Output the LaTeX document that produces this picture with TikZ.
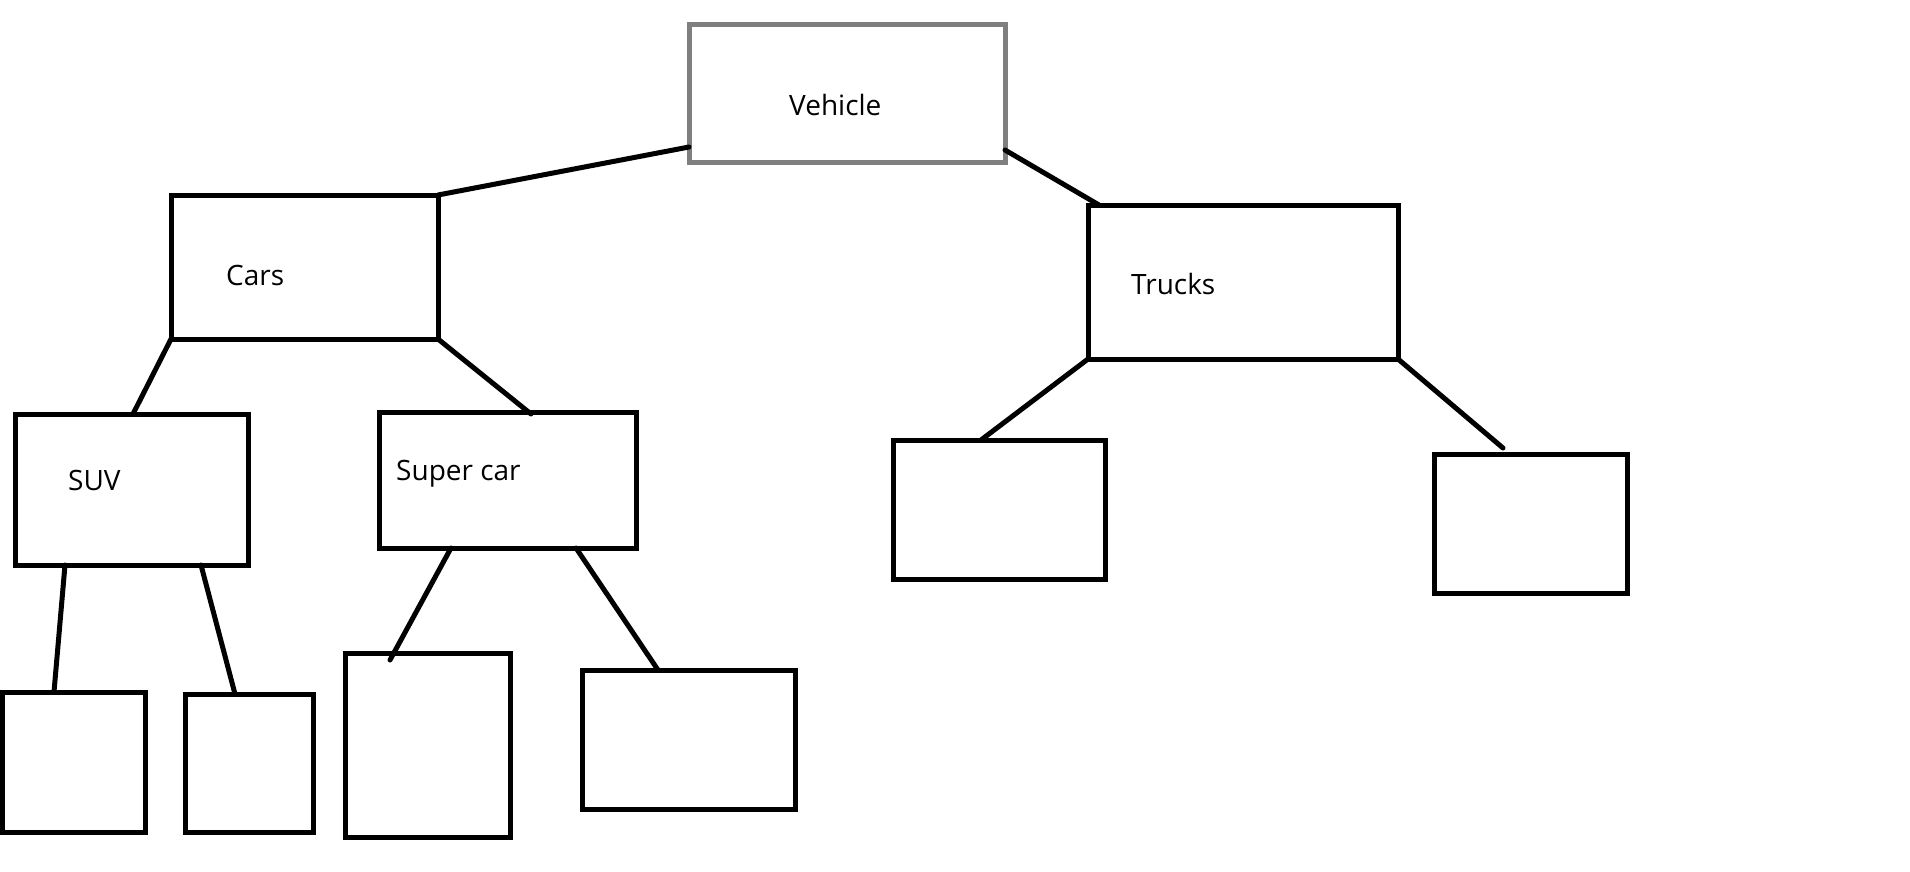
\documentclass[tikz,border=0pt]{standalone}
\usepackage{fontspec}
\setmainfont{Open Sans}
\definecolor{vgray}{RGB}{127,127,127}
\tikzset{
  box/.style={draw=black, line width=5pt, inner sep=0pt, outer sep=0pt, anchor=north west, fill=white},
  gbox/.style={box, draw=vgray},
  lbl/.style={anchor=base west, inner sep=0pt, font=\fontsize{28}{32}\selectfont},
  conn/.style={draw=black, line width=5pt, line cap=round}
}
\begin{document}
\begin{tikzpicture}[x=1pt,y=-1pt]
\useasboundingbox (0,0) rectangle (1910,871);
% boxes
\node[gbox, minimum width=316pt, minimum height=138pt] (veh) at (689,24) {};
\node[box, minimum width=267pt, minimum height=144pt] (cars) at (171,195) {};
\node[box, minimum width=310pt, minimum height=154pt] (trucks) at (1088,205) {};
\node[box, minimum width=233pt, minimum height=151pt] (suv) at (15,414) {};
\node[box, minimum width=257pt, minimum height=136pt] (super) at (379,412) {};
\node[box, minimum width=212pt, minimum height=139pt] (tone) at (893,440) {};
\node[box, minimum width=193pt, minimum height=139pt] (ttwo) at (1434,454) {};
\node[box, minimum width=143pt, minimum height=140pt] (sone) at (2,692) {};
\node[box, minimum width=128pt, minimum height=138pt] (stwo) at (185,694) {};
\node[box, minimum width=165pt, minimum height=184pt] (cone) at (345,653) {};
\node[box, minimum width=213pt, minimum height=139pt] (ctwo) at (582,670) {};
% labels
\node[lbl] (tveh) at (789,115) {Vehicle};
\node[lbl] (tcars) at (226,285) {Cars};
\node[lbl] (ttrucks) at (1131,294) {Trucks};
\node[lbl] (tsuv) at (68,490) {SUV};
\node[lbl] (tsuper) at (396,480) {Super car};
% connectors
\coordinate (ttwoend) at (1503,448);
\draw[conn] ([yshift=15pt]veh.south west) -- (cars.north east);
\draw[conn] ([yshift=12pt]veh.south east) -- ([xshift=11pt]trucks.north west);
\draw[conn] (cars.south west) -- ([xshift=118pt]suv.north west);
\draw[conn] (cars.south east) -- ([xshift=152pt,yshift=-2pt]super.north west);
\draw[conn] (trucks.south west) -- ([xshift=88pt]tone.north west);
\draw[conn] (trucks.south east) -- (ttwoend);
\draw[conn] ([xshift=50pt]suv.south west) -- ([xshift=52pt]sone.north west);
\draw[conn] ([xshift=186pt]suv.south west) -- ([xshift=50pt]stwo.north west);
\draw[conn] ([xshift=72pt]super.south west) -- ([xshift=45pt,yshift=-7pt]cone.north west);
\draw[conn] ([xshift=197pt]super.south west) -- ([xshift=76pt]ctwo.north west);
\end{tikzpicture}
\end{document}
